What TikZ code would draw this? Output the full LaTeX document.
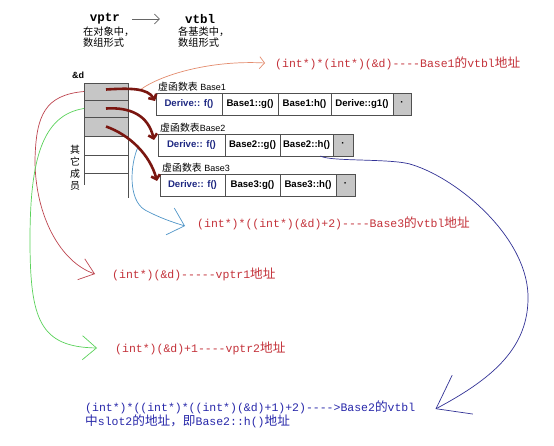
\documentclass[tikz,border=0pt]{standalone}
\usepackage{fontspec}
\setmainfont{Liberation Sans}
\setmonofont{Liberation Mono}
\newfontfamily\cjkfont{Noto Sans CJK SC}[Scale=1.1]
\usepackage{tikz}
\usetikzlibrary{
  arrows.meta,
  positioning
}
\definecolor{ptrred}{RGB}{122,22,16}
\definecolor{addrred}{RGB}{196,50,58}
\definecolor{addrblue}{RGB}{40,40,170}
\definecolor{derivenavy}{RGB}{30,40,130}
\definecolor{curveorange}{RGB}{228,140,110}
\definecolor{curvered}{RGB}{190,70,80}
\definecolor{curvegreen}{RGB}{90,210,90}
\definecolor{curveblue}{RGB}{80,150,200}
\definecolor{curvenavy}{RGB}{50,50,150}
\definecolor{slotgray}{RGB}{80,80,80}
\tikzset{
  headtt/.style={font=\ttfamily\bfseries\fontsize{12.5}{14}\selectfont,inner sep=1pt},
  headnote/.style={font=\cjkfont\fontsize{9.3}{11}\selectfont,align=left,inner sep=0pt},
  headbold/.style={font=\bfseries\fontsize{9}{10}\selectfont,inner sep=0pt},
  sidenote/.style={font=\cjkfont\fontsize{9}{12}\selectfont,align=center,inner sep=0pt},
  headarrow/.style={-{Straight Barb[length=5pt,width=10pt]},line width=0.6pt,draw=black!60},
  memcell/.style={draw=slotgray,line width=0.8pt,minimum width=44pt,inner sep=0pt,outer sep=0pt},
  memgray/.style={memcell,fill=gray!45},
  memwhite/.style={memcell,fill=white},
  memline/.style={draw=slotgray,line width=0.8pt},
  slot/.style={draw=slotgray,line width=0.9pt,fill=white,minimum height=22pt,
    inner sep=0pt,outer sep=0pt,font=\bfseries\fontsize{9.6}{10}\selectfont},
  ownslot/.style={slot,text=derivenavy},
  dotslot/.style={slot,fill=gray!45},
  tablab/.style={font=\fontsize{9}{10}\selectfont,inner sep=0pt},
  redaddr/.style={font=\ttfamily\fontsize{11.5}{14}\selectfont,text=addrred,inner sep=2pt},
  blueaddr/.style={font=\ttfamily\fontsize{11.5}{14}\selectfont,text=addrblue,align=left,inner sep=0pt},
  vptrflow/.style={-{Straight Barb[length=4pt,width=9pt]},line width=2.6pt,draw=ptrred},
  baseonecurve/.style={-{Straight Barb[length=5pt,width=12pt]},line width=0.7pt,draw=curveorange},
  vptronecurve/.style={-{Straight Barb[length=14pt,width=22pt]},line width=0.7pt,draw=curvered},
  vptrtwocurve/.style={-{Straight Barb[length=14pt,width=24pt]},line width=0.7pt,draw=curvegreen},
  basethreecurve/.style={-{Straight Barb[length=15pt,width=28pt]},line width=0.7pt,draw=curveblue},
  slotcurve/.style={-{Straight Barb[length=30pt,width=44pt]},line width=0.7pt,draw=curvenavy}
}
\newcommand{\hanzi}[1]{{\cjkfont #1}}

\begin{document}
\begin{tikzpicture}[x=1pt,y=-1pt]
  \fill[white] (0,0) rectangle (554,446);
  \useasboundingbox (0,0) rectangle (554,446);
  % header
  \node[headtt] (vptr) at (105,19) {vptr};
  \node[headtt] (vtbl) at (200,19) {vtbl};
  \draw[headarrow,shorten <=11pt,shorten >=24pt] (vptr) -- (vtbl);
  \node[headnote,anchor=north west] (objnote) at (83,27) {在对象中，\\数组形式};
  \node[headnote,anchor=north west] (basenote) at (178,27) {各基类中，\\数组形式};
  % object d in memory
  \node[headbold] (addr) at (78,75) {\&d};
  \node[memgray,minimum height=17pt,anchor=north west] (m1) at (84,83) {};
  \node[memgray,minimum height=17pt,below=0pt of m1] (m2) {};
  \node[memgray,minimum height=19pt,below=0pt of m2] (m3) {};
  \node[memwhite,minimum height=19pt,below=0pt of m3] (m4) {};
  \node[memwhite,minimum height=18pt,below=0pt of m4] (m5) {};
  \draw[memline] (m5.south west) -- ++(0,12);
  \draw[memline] (m5.south east) -- ++(0,25);
  \node[sidenote] (others) at (75,168) {其\\它\\成\\员};
  % vtbl of Base1
  \node[ownslot,minimum width=66pt,anchor=north west] (b1f) at (156,93) {Derive:: f()};
  \node[slot,minimum width=56pt,right=0pt of b1f] (b1g) {Base1::g()};
  \node[slot,minimum width=53pt,right=0pt of b1g] (b1h) {Base1:h()};
  \node[slot,minimum width=62pt,right=0pt of b1h] (b1g1) {Derive::g1()};
  \node[dotslot,minimum width=18pt,right=0pt of b1g1] (b1end) {·};
  \node[tablab,above right=1pt and 2pt of b1f.north west] (b1lab) {\hanzi{虚函数表} Base1};
  % vtbl of Base2
  \node[ownslot,minimum width=67pt,anchor=north west] (b2f) at (158,134) {Derive:: f()};
  \node[slot,minimum width=55pt,right=0pt of b2f] (b2g) {Base2::g()};
  \node[slot,minimum width=53pt,right=0pt of b2g] (b2h) {Base2::h()};
  \node[dotslot,minimum width=20pt,right=0pt of b2h] (b2end) {·};
  \node[tablab,above right=1pt and 2pt of b2f.north west] (b2lab) {\hanzi{虚函数表}Base2};
  % vtbl of Base3
  \node[ownslot,minimum width=65pt,anchor=north west] (b3f) at (160,174) {Derive:: f()};
  \node[slot,minimum width=55pt,right=0pt of b3f] (b3g) {Base3:g()};
  \node[slot,minimum width=56pt,right=0pt of b3g] (b3h) {Base3::h()};
  \node[dotslot,minimum width=19pt,right=0pt of b3h] (b3end) {·};
  \node[tablab,above right=1pt and 2pt of b3f.north west] (b3lab) {\hanzi{虚函数表} Base3};
  % address expressions
  \node[redaddr,anchor=west] (b1addr) at (273,63) {(int*)*(int*)(\&d)----Base1\hanzi{的}vtbl\hanzi{地址}};
  \node[redaddr,anchor=west] (b3addr) at (195,223) {(int*)*((int*)(\&d)+2)----Base3\hanzi{的}vtbl\hanzi{地址}};
  \node[redaddr,anchor=west] (vptr1addr) at (110,274) {(int*)(\&d)-----vptr1\hanzi{地址}};
  \node[redaddr,anchor=west] (vptr2addr) at (113,348) {(int*)(\&d)+1----vptr2\hanzi{地址}};
  \node[blueaddr,anchor=north west] (slotaddr) at (85,401)
    {(int*)*((int*)*((int*)(\&d)+1)+2)---->Base2\hanzi{的}vtbl\\
     \hanzi{中}slot2\hanzi{的地址，即}Base2::h()\hanzi{地址}};
  % hand-drawn pointers
  \coordinate (b1tap) at (140,90);
  \coordinate (b3tap) at (138,147);
  \draw[baseonecurve] (b1tap) .. controls (160,75) and (210,60) .. ([xshift=-8pt]b1addr.west);
  \draw[vptronecurve] (m1.west) .. controls (45,95) and (36,115) .. (35,160)
    .. controls (35,215) and (60,262) .. ([xshift=-15pt]vptr1addr.west);
  \draw[vptrtwocurve] (m2.west) .. controls (42,115) and (30,160) .. (30,240)
    .. controls (30,320) and (40,347) .. ([xshift=-16pt]vptr2addr.west);
  \draw[basethreecurve] (b3tap) .. controls (130,165) and (128,200) .. (145,210)
    .. controls (160,218) and (172,222) .. ([xshift=-10pt,yshift=-3pt]b3addr.west);
  \draw[slotcurve] ([xshift=14pt]b2h.south) .. controls (330,162) and (395,158) .. (413,165)
    .. controls (460,180) and (530,240) .. (528,300)
    .. controls (527,350) and (490,380) .. ([xshift=20pt,yshift=-8pt]slotaddr.north east);
  % vptr to vtbl
  \draw[vptrflow] ([yshift=2pt]m1.center) .. controls (130,88) and (148,88) .. ([shift={(-1,8)}]b1f.north west);
  \draw[vptrflow] (m2.center) .. controls (130,107) and (148,115) .. ([shift={(-4,6)}]b2f.north west);
  \draw[vptrflow] (m3.center) .. controls (130,135) and (150,155) .. ([shift={(-3,7)}]b3f.north west);
\end{tikzpicture}
\end{document}
